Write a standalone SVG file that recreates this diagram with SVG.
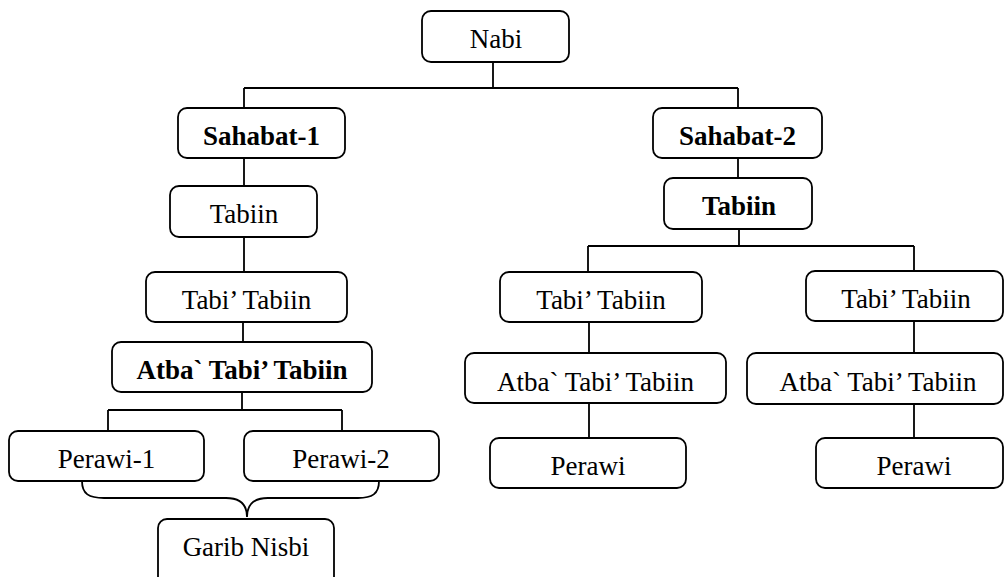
<svg xmlns="http://www.w3.org/2000/svg" width="1005" height="577" viewBox="0 0 1005 577">
<style>
.box{fill:#fff;stroke:#000;stroke-width:1.8}
.t{font-family:"Liberation Serif","Times New Roman",serif;font-size:27px;fill:#000;text-anchor:middle}
.b{font-weight:bold}
.c{fill:none;stroke:#000;stroke-width:1.8}
</style>
<rect width="1005" height="577" fill="#fff"/>
<g id="connectors">
<path class="c" d="M493,62 V88 M244,88 H738 M244,88 V108 M738,88 V108"/>
<path class="c" d="M244,158 V186 M244,237 V272 M243,322 V342 M242,392 V410 M108,410 H342 M108,410 V431 M342,410 V431"/>
<path class="c" d="M82,481 C82,494 89,498 104,498 L226,498 C240,498 247,505 247,517 C247,505 254,498 268,498 L358,498 C372,498 379,494 379,481"/>
<path class="c" d="M738,158 V178 M739,229 V246 M588,246 H914 M588,246 V272 M914,246 V271"/>
<path class="c" d="M589,322 V353 M589,403 V438 M914,321 V353 M914,404 V438"/>
</g>
<g id="nabi"><rect class="box" x="422" y="11" width="147" height="51" rx="9"/><text class="t" x="496" y="48">Nabi</text></g>
<g id="sahabat1"><rect class="box" x="178" y="108" width="167" height="50" rx="9"/><text class="t b" x="261.5" y="145">Sahabat-1</text></g>
<g id="sahabat2"><rect class="box" x="653" y="108" width="169" height="50" rx="9"/><text class="t b" x="737.5" y="145">Sahabat-2</text></g>
<g id="tabiin-left"><rect class="box" x="170" y="186" width="147" height="51" rx="9"/><text class="t" x="244" y="223">Tabiin</text></g>
<g id="tabiin-right"><rect class="box" x="664" y="178" width="148" height="51" rx="9"/><text class="t b" x="739" y="215">Tabiin</text></g>
<g id="tabitabiin-l"><rect class="box" x="146" y="272" width="201" height="50" rx="9"/><text class="t" x="246.5" y="309">Tabi’ Tabiin</text></g>
<g id="tabitabiin-m"><rect class="box" x="500" y="272" width="202" height="50" rx="9"/><text class="t" x="601" y="309">Tabi’ Tabiin</text></g>
<g id="tabitabiin-r"><rect class="box" x="806" y="271" width="197" height="50" rx="9"/><text class="t" x="906" y="308">Tabi’ Tabiin</text></g>
<g id="atba-l"><rect class="box" x="112" y="342" width="260" height="50" rx="9"/><text class="t b" x="242" y="379">Atba` Tabi’ Tabiin</text></g>
<g id="atba-m"><rect class="box" x="465" y="353" width="261" height="50" rx="9"/><text class="t" x="595.5" y="391">Atba` Tabi’ Tabiin</text></g>
<g id="atba-r"><rect class="box" x="747" y="353" width="256" height="51" rx="9"/><text class="t" x="878" y="391">Atba` Tabi’ Tabiin</text></g>
<g id="perawi1"><rect class="box" x="9" y="431" width="195" height="50" rx="9"/><text class="t" x="106.5" y="468">Perawi-1</text></g>
<g id="perawi2"><rect class="box" x="244" y="431" width="195" height="50" rx="9"/><text class="t" x="341" y="468">Perawi-2</text></g>
<g id="perawi-m"><rect class="box" x="490" y="438" width="196" height="50" rx="9"/><text class="t" x="588" y="475">Perawi</text></g>
<g id="perawi-r"><rect class="box" x="816" y="438" width="187" height="50" rx="9"/><text class="t" x="914" y="475">Perawi</text></g>
<g id="garib"><rect class="box" x="158" y="519" width="176" height="70" rx="9"/><text class="t" x="246" y="556">Garib Nisbi</text></g>
</svg>
